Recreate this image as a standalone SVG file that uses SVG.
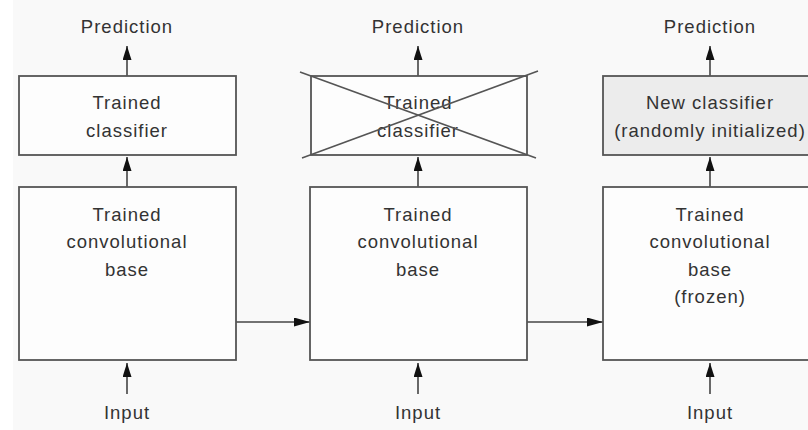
<svg xmlns="http://www.w3.org/2000/svg" width="808" height="430" viewBox="0 0 808 430">
<style>
text{font-family:"Liberation Sans",Arial,sans-serif;font-size:18.5px;letter-spacing:1px;fill:#333;text-anchor:middle}
.box{fill:#fdfdfd;stroke:#555;stroke-width:1.8}
.new{fill:#ececec;stroke:#555;stroke-width:1.8}
.ln{stroke:#444;stroke-width:1.6;fill:none}
.cross{stroke:#555;stroke-width:1.6;fill:none}
</style>
<defs>
<marker id="ah" markerUnits="userSpaceOnUse" markerWidth="17" markerHeight="10" refX="16" refY="4.5" orient="auto">
<path d="M0,0 L16,4.5 L0,9 z" fill="#111"/>
</marker>
<marker id="av" markerUnits="userSpaceOnUse" markerWidth="15" markerHeight="10" refX="14" refY="4.5" orient="auto">
<path d="M0,0 L14,4.5 L0,9 z" fill="#111"/>
</marker>
</defs>
<rect x="0" y="0" width="808" height="430" fill="#ffffff"/>
<rect x="13" y="0" width="795" height="430" fill="#f9f9f9"/>

<g id="connectors">
<line class="ln" x1="127" y1="76" x2="127" y2="46" marker-end="url(#av)"/>
<line class="ln" x1="127" y1="187" x2="127" y2="157" marker-end="url(#av)"/>
<line class="ln" x1="127" y1="394" x2="127" y2="363" marker-end="url(#av)"/>
<line class="ln" x1="418" y1="76" x2="418" y2="46" marker-end="url(#av)"/>
<line class="ln" x1="418" y1="187" x2="418" y2="157" marker-end="url(#av)"/>
<line class="ln" x1="418" y1="394" x2="418" y2="363" marker-end="url(#av)"/>
<line class="ln" x1="710" y1="76" x2="710" y2="46" marker-end="url(#av)"/>
<line class="ln" x1="710" y1="187" x2="710" y2="157" marker-end="url(#av)"/>
<line class="ln" x1="710" y1="394" x2="710" y2="363" marker-end="url(#av)"/>
<line class="ln" x1="236" y1="322" x2="310" y2="322" marker-end="url(#ah)"/>
<line class="ln" x1="527" y1="322" x2="603" y2="322" marker-end="url(#ah)"/>
</g>

<g id="labels">
<text x="127" y="33">Prediction</text>
<text x="418" y="33">Prediction</text>
<text x="710" y="33">Prediction</text>
<text x="127" y="419">Input</text>
<text x="418" y="419">Input</text>
<text x="710" y="419">Input</text>
</g>

<g id="classifier1">
<rect class="box" x="19" y="76" width="217" height="79"/>
<text x="127" y="109">Trained</text>
<text x="127" y="137">classifier</text>
</g>
<g id="base1">
<rect class="box" x="19" y="187" width="217" height="173"/>
<text x="127" y="221">Trained</text>
<text x="127" y="248">convolutional</text>
<text x="127" y="276">base</text>
</g>

<g id="classifier2">
<rect class="box" x="311" y="76" width="216" height="79"/>
<text x="418" y="109">Trained</text>
<text x="418" y="137">classifier</text>
<line class="cross" x1="300" y1="72" x2="536" y2="158"/>
<line class="cross" x1="302" y1="158" x2="538" y2="71"/>
</g>
<g id="base2">
<rect class="box" x="310" y="187" width="217" height="173"/>
<text x="418" y="221">Trained</text>
<text x="418" y="248">convolutional</text>
<text x="418" y="276">base</text>
</g>

<g id="classifier3">
<rect class="new" x="603" y="76" width="217" height="79"/>
<text x="710" y="109">New classifier</text>
<text x="710" y="137">(randomly initialized)</text>
</g>
<g id="base3">
<rect class="box" x="603" y="187" width="217" height="173"/>
<text x="710" y="221">Trained</text>
<text x="710" y="248">convolutional</text>
<text x="710" y="276">base</text>
<text x="710" y="303">(frozen)</text>
</g>
</svg>
